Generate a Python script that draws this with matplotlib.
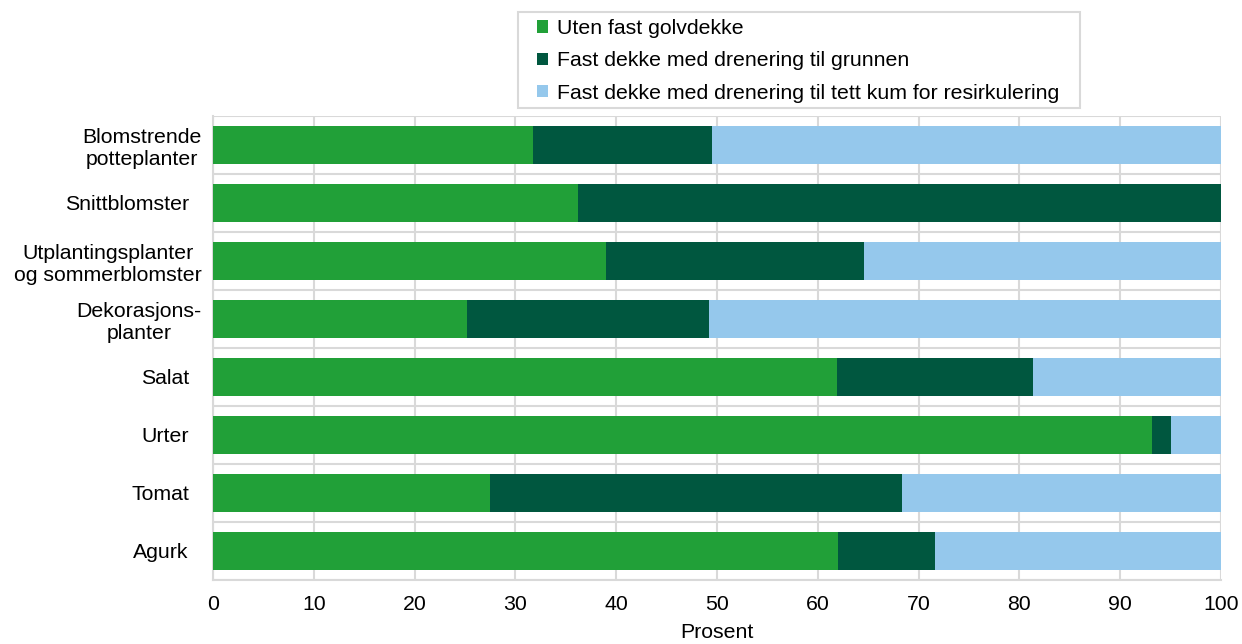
import matplotlib
matplotlib.use("Agg")
import matplotlib.pyplot as plt
import matplotlib.transforms as mtransforms
from matplotlib.patches import Rectangle
import numpy as np

plt.rcParams['font.family'] = ['Liberation Sans', 'DejaVu Sans']

categories = ["Blomstrende\npotteplanter", "Snittblomster", "Utplantingsplanter\nog sommerblomster",
              "Dekorasjons-\nplanter", "Salat", "Urter", "Tomat", "Agurk"]
uten_fast = [31.7, 36.2, 39.0, 25.2, 61.9, 93.2, 27.5, 62.0]
til_grunnen = [17.8, 63.8, 25.6, 24.0, 19.4, 1.8, 40.9, 9.6]
til_kum = [50.5, 0.0, 35.4, 50.8, 18.7, 5.0, 31.6, 28.4]

series_names = ["Uten fast golvdekke",
                "Fast dekke med drenering til grunnen",
                "Fast dekke med drenering til tett kum for resirkulering"]
colors = ["#21a038", "#00573f", "#95c8ec"]
FS = 15.3
W, H = 1242, 644

fig = plt.figure(figsize=(W / 100, H / 100), dpi=100)
ax = fig.add_axes([213/W, 1 - 580/H, 1008/W, 464/H])

y = np.arange(len(categories))
left = np.zeros(len(categories))
for vals, name, c in zip([uten_fast, til_grunnen, til_kum], series_names, colors):
    ax.barh(y, vals, left=left, height=0.66, color=c, label=name, zorder=3)
    left += np.array(vals)

ax.set_ylim(len(categories) - 0.5, -0.5)
ax.set_xlim(0, 100)
ax.set_xticks(np.arange(0, 101, 10))
ax.set_yticks(y)
ax.set_yticklabels(categories, fontsize=FS)
ax.tick_params(axis='x', labelsize=FS, length=0, pad=11)
ax.tick_params(axis='y', length=0, pad=8)
shift = mtransforms.ScaledTranslation(-13 / 100, 0, fig.dpi_scale_trans)
for lab in ax.get_yticklabels():
    lab.set_horizontalalignment('right')
    lab.set_multialignment('center')
    if '\n' not in lab.get_text():
        lab.set_transform(lab.get_transform() + shift)

# grid: vertical at ticks, horizontal between categories
ax.set_yticks(np.arange(-0.5, len(categories)), minor=True)
ax.grid(axis='x', color='#d9d9d9', linewidth=1.5, zorder=0)
ax.grid(axis='y', which='minor', color='#d9d9d9', linewidth=1.5, zorder=0)
ax.grid(axis='y', which='major', visible=False)
ax.tick_params(axis='y', which='minor', length=0)
for s in ax.spines.values():
    s.set_visible(False)
for side in ('left', 'bottom'):
    ax.spines[side].set_visible(True)
    ax.spines[side].set_color('#d9d9d9')
    ax.spines[side].set_linewidth(1.5)

ax.set_xlabel("Prosent", fontsize=FS, labelpad=6)

# legend box drawn separately so the side padding can be wider than the top/bottom
fig.patches.append(Rectangle((518/W, 1 - 108/H), 562/W, 96/H, transform=fig.transFigure,
                             facecolor='white', edgecolor='#d9d9d9', linewidth=1.5))
leg = fig.legend(loc='upper left', bbox_to_anchor=(537/W, 1 - 19/H), frameon=False,
                 fontsize=FS, handlelength=0.5, handleheight=0.5, handletextpad=0.45,
                 borderpad=0, labelspacing=0.63, borderaxespad=0)

fig.savefig("out.png", dpi=100)
